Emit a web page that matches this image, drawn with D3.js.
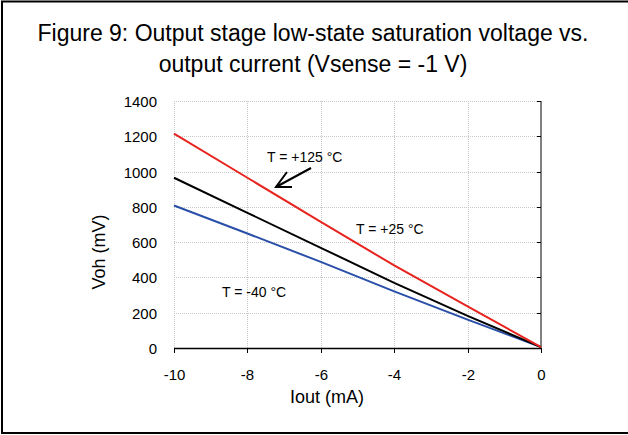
<!DOCTYPE html>
<html lang="en">
<head>
<meta charset="UTF-8" />
<title>Figure 9</title>
<script src="https://d3js.org/d3.v7.min.js"></script>
<style>
  body { margin: 0; background: #fff; }
  svg { display: block; font-family: Arial, "Liberation Sans", sans-serif; }
</style>
</head>
<body>
<svg id="chart"></svg>
<script>
const current = [-10, -8, -6, -4, -2, 0];
const vohHot = [1215, 965, 715, 468, 236, 5];
const vohRoom = [965, 766, 568, 369, 182, 5];
const vohCold = [808, 649, 488, 321, 161, 5];
const xTicks = [-10, -8, -6, -4, -2, 0];
const yTicks = [0, 200, 400, 600, 800, 1000, 1200, 1400];

const W = 628, H = 435;
const plot = { left: 174, right: 541, top: 101, bottom: 348 };

const svg = d3.select("#chart").attr("width", W).attr("height", H);

svg.append("rect")
  .attr("x", 2).attr("y", 1.5).attr("width", 640).attr("height", 431.5)
  .attr("fill", "none").attr("stroke", "#000").attr("stroke-width", 2);

svg.append("text").attr("x", 313).attr("y", 41).attr("text-anchor", "middle")
  .attr("font-size", 23).text("Figure 9: Output stage low-state saturation voltage vs.");
svg.append("text").attr("x", 313).attr("y", 72).attr("text-anchor", "middle")
  .attr("font-size", 23).text("output current (Vsense = -1 V)");

const x = d3.scaleLinear().domain([-10, 0]).range([plot.left, plot.right]);
const y = d3.scaleLinear().domain([0, 1400]).range([plot.bottom, plot.top]);

// gridlines
const grid = svg.append("g").attr("stroke", "#c8c8c8").attr("stroke-width", 1)
  .attr("stroke-dasharray", "1,1");
yTicks.filter(d => d > 0).forEach(d => {
  grid.append("line").attr("x1", plot.left).attr("x2", plot.right)
    .attr("y1", Math.round(y(d)) + 0.5).attr("y2", Math.round(y(d)) + 0.5);
});
xTicks.filter(d => d < 0).forEach(d => {
  grid.append("line").attr("y1", plot.top).attr("y2", plot.bottom)
    .attr("x1", Math.round(x(d)) + 0.5).attr("x2", Math.round(x(d)) + 0.5);
});

// y axis sits at x = 0 (right edge), labels on the left
svg.append("line").attr("x1", plot.right).attr("x2", plot.right)
  .attr("y1", plot.top).attr("y2", plot.bottom)
  .attr("stroke", "#808080").attr("stroke-width", 2);
yTicks.forEach(d => {
  const yy = Math.round(y(d)) + 0.5;
  svg.append("line").attr("x1", plot.right - 4).attr("x2", plot.right)
    .attr("y1", yy).attr("y2", yy).attr("stroke", "#000");
  svg.append("text").attr("x", 157).attr("y", yy + 5.5).attr("text-anchor", "end")
    .attr("font-size", 15).text(d);
});

// x axis
svg.append("line").attr("x1", plot.left).attr("x2", plot.right)
  .attr("y1", plot.bottom + 0.5).attr("y2", plot.bottom + 0.5)
  .attr("stroke", "#000").attr("stroke-width", 1.5);
xTicks.forEach(d => {
  const xx = Math.round(x(d)) + 0.5;
  svg.append("line").attr("x1", xx).attr("x2", xx)
    .attr("y1", plot.bottom).attr("y2", plot.bottom + 5).attr("stroke", "#000");
  svg.append("text").attr("x", xx).attr("y", 380).attr("text-anchor", "middle")
    .attr("font-size", 15).text(d);
});

svg.append("text").attr("x", 327).attr("y", 403).attr("text-anchor", "middle")
  .attr("font-size", 18).text("Iout (mA)");
svg.append("text").attr("transform", "translate(105,252) rotate(-90)")
  .attr("text-anchor", "middle").attr("font-size", 18).text("Voh (mV)");

// series
const line = d3.line().x((d, i) => x(current[i])).y(d => y(d));
[[vohCold, "#2a4fa8"], [vohRoom, "#000"], [vohHot, "#e8231e"]].forEach(([vals, c]) => {
  svg.append("path").datum(vals).attr("d", line)
    .attr("fill", "none").attr("stroke", c).attr("stroke-width", 2);
});

// annotations
svg.append("text").attr("x", 267).attr("y", 162).attr("font-size", 14).text("T = +125 °C");
svg.append("text").attr("x", 356).attr("y", 234).attr("font-size", 14).text("T = +25 °C");
svg.append("text").attr("x", 222).attr("y", 297).attr("font-size", 14).text("T = -40 °C");

svg.append("line").attr("x1", 311).attr("y1", 168).attr("x2", 276).attr("y2", 187)
  .attr("stroke", "#000").attr("stroke-width", 2);
svg.append("path").attr("d", "M287,172 L276,187 L292,187")
  .attr("fill", "none").attr("stroke", "#000").attr("stroke-width", 2);
</script>
</body>
</html>
